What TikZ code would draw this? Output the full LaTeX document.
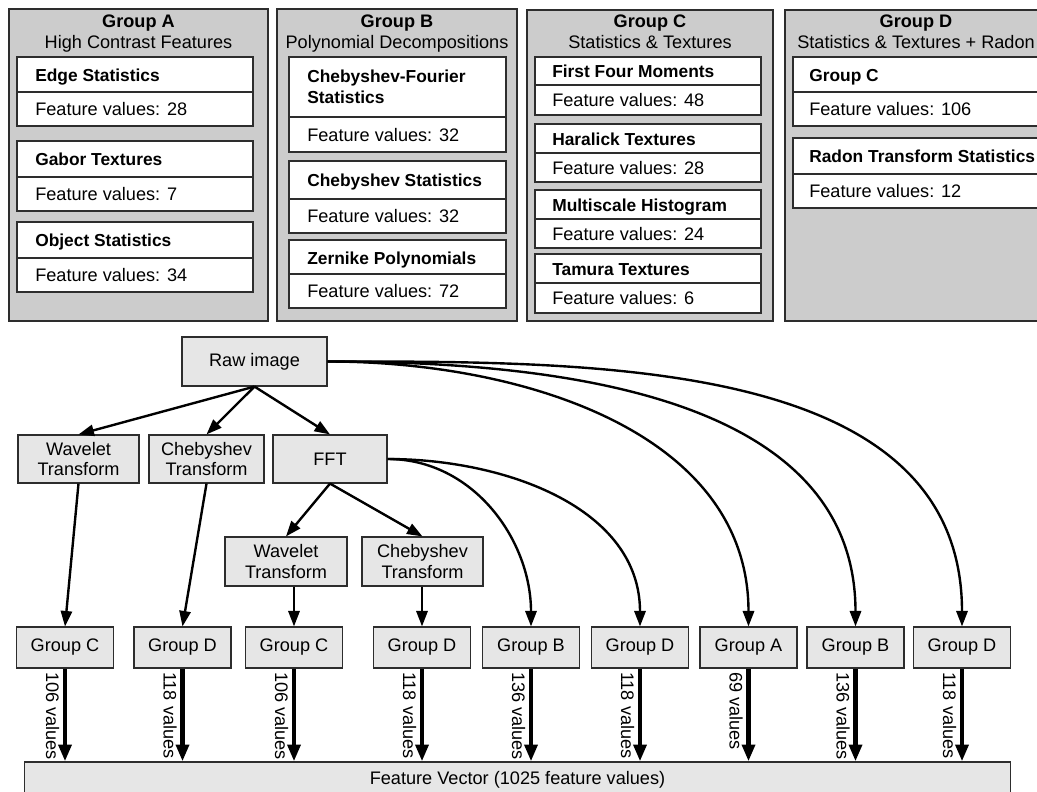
\documentclass[tikz,border=0pt]{standalone}
\usepackage{fontspec}
\setmainfont{Liberation Sans}
\usetikzlibrary{arrows.meta}
\definecolor{panelgray}{RGB}{204,204,204}
\definecolor{boxgray}{RGB}{230,230,230}
\definecolor{framegray}{RGB}{45,45,45}

\begin{document}
\begin{tikzpicture}[x=0.025cm,y=0.025cm,>={Triangle[length=11pt,width=8pt]},
  font=\fontsize{12.9}{14.8}\selectfont,
  panel/.style={draw=framegray,line width=0.9pt,fill=panelgray},
  cell/.style={draw=framegray,line width=0.9pt,fill=white},
  celltext/.style={anchor=base west,inner sep=0pt},
  cellhead/.style={celltext,font=\fontsize{12.35}{14.8}\selectfont\bfseries},
  proc/.style={draw=framegray,line width=0.8pt,fill=boxgray,inner sep=0pt,align=center},
  flow/.style={->,line width=1.7pt},
  feed/.style={->,line width=3pt,>={Triangle[length=12pt,width=9pt]}},
  vallabel/.style={xshift=-1.6pt,rotate=-90,anchor=north west,inner sep=1pt}]
\useasboundingbox (0,0) rectangle (1037,-791);
\clip (0,0) rectangle (1037,-791);

% feature groups
\draw[panel] (9,-9) rectangle (268,-321);
\draw[panel] (277,-9) rectangle (517,-321);
\draw[panel] (527,-10) rectangle (773,-321);
\draw[panel] (785,-10) rectangle (1048,-321);
\node[anchor=base] (titleA) at (138.5,-27) {\textbf{Group A}};
\node[anchor=base] (subA) at (138.5,-48) {High Contrast Features};
\node[anchor=base] (titleB) at (397,-27) {\textbf{Group B}};
\node[anchor=base] (subB) at (397,-48) {Polynomial Decompositions};
\node[anchor=base] (titleC) at (650,-27) {\textbf{Group C}};
\node[anchor=base] (subC) at (650,-48) {Statistics \& Textures};
\node[anchor=base] (titleD) at (916,-27) {\textbf{Group D}};
\node[anchor=base] (subD) at (916,-48) {Statistics \& Textures + Radon};

\foreach \yt/\yd/\yb/\tb/\vb/\name/\val in {57/92/126/81/115.5/Edge Statistics/28,
    141/177/211/165.5/200.5/Gabor Textures/7, 222/258/292/246.5/281.5/Object Statistics/34}{
  \draw[cell] (17,-\yt) rectangle (253,-\yb);
  \draw[framegray,line width=0.9pt] (17,-\yd) -- (253,-\yd);
  \node[cellhead] at (35,-\tb) {\name};
  \node[celltext] at (35,-\vb) {Feature values: \val};
}

\draw[cell] (289,-57) rectangle (506,-152);
\draw[framegray,line width=0.9pt] (289,-117) -- (506,-117);
\node[anchor=north west,align=left,inner sep=0pt,font=\fontsize{12.35}{14.8}\selectfont\bfseries] (cfs) at (307,-69.5) {Chebyshev-Fourier\\Statistics};
\node[celltext] at (307,-141) {Feature values: 32};
\foreach \yt/\yd/\yb/\tb/\vb/\name/\val in {161/199/233/186.5/222.5/Chebyshev Statistics/32,
    240/274/308/264/297.5/Zernike Polynomials/72}{
  \draw[cell] (289,-\yt) rectangle (506,-\yb);
  \draw[framegray,line width=0.9pt] (289,-\yd) -- (506,-\yd);
  \node[cellhead] at (307,-\tb) {\name};
  \node[celltext] at (307,-\vb) {Feature values: \val};
}

\foreach \yt/\yd/\yb/\tb/\vb/\name/\val in {57/85/115/77.5/106.5/First Four Moments/48,
    124/153/182/145/174/Haralick Textures/28, 190/219/248/211/240/Multiscale Histogram/24,
    254/283/313/275/304.5/Tamura Textures/6}{
  \draw[cell] (535,-\yt) rectangle (761,-\yb);
  \draw[framegray,line width=0.9pt] (535,-\yd) -- (761,-\yd);
  \node[cellhead] at (552,-\tb) {\name};
  \node[celltext] at (552,-\vb) {Feature values: \val};
}

\foreach \yt/\yd/\yb/\tb/\vb/\name/\val in {57/92/126/81/115.5/Group C/106,
    138/174/208/162.5/197.5/Radon Transform Statistics/12}{
  \draw[cell] (793,-\yt) rectangle (1044,-\yb);
  \draw[framegray,line width=0.9pt] (793,-\yd) -- (1044,-\yd);
  \node[cellhead] at (809,-\tb) {\name};
  \node[celltext] at (809,-\vb) {Feature values: \val};
}

% transforms
\node[proc,minimum width=3.625cm,minimum height=1.225cm] (raw) at (254.5,-361.5) {Raw image};
\node[proc,minimum width=3.025cm,minimum height=1.2cm] (wavA) at (78.5,-459) {Wavelet\\Transform};
\node[proc,minimum width=2.875cm,minimum height=1.2cm] (chebA) at (206.5,-459) {Chebyshev\\Transform};
\node[proc,minimum width=2.85cm,minimum height=1.2cm] (fft) at (330,-459) {FFT};
\node[proc,minimum width=3.05cm,minimum height=1.225cm] (wavB) at (286,-561.5) {Wavelet\\Transform};
\node[proc,minimum width=3.025cm,minimum height=1.225cm] (chebB) at (422.5,-561.5) {Chebyshev\\Transform};
\foreach \x/\g [count=\i] in {65/C,182.5/D,294/C,422/D,531/B,640/D,748.5/A,855.5/B,962/D}
  \node[proc,minimum width=2.425cm,minimum height=1.025cm] (g\i) at (\x,-647.5) {Group \g};
\node[proc,minimum width=24.625cm,minimum height=0.875cm] (fv) at (517.5,-779.5) {Feature Vector (1025 feature values)};

\draw[flow] (raw.south) -- (wavA.north);
\draw[flow] (raw.south) -- (chebA.north);
\draw[flow] (raw.south) -- (fft.north);
\draw[flow] (fft.south) -- (wavB.north);
\draw[flow] (fft.south) -- (chebB.north);
\draw[flow] (wavA.south) -- (g1.north);
\draw[flow] (chebA.south) -- (g2.north);
\draw[flow] (g3.north |- wavB.south) -- (g3.north);
\draw[flow] (g4.north |- chebB.south) -- (g4.north);
\draw[flow] (fft.east) to[out=0,in=90] (g5.north);
\draw[flow] (fft.east) to[out=0,in=90] (g6.north);
\draw[flow] (raw.east) to[out=0,in=90] (g7.north);
\draw[flow] (raw.east) to[out=0,in=90] (g8.north);
\draw[flow] (raw.east) to[out=0,in=90] (g9.north);

% counts into the vector
\foreach \i/\n in {1/106,2/118,3/106,4/118,5/136,6/118,7/69,8/136,9/118}
  \draw[feed] (g\i.south) -- (g\i.south |- fv.north) node[pos=0,vallabel] {\n\ values};
\end{tikzpicture}
\end{document}
